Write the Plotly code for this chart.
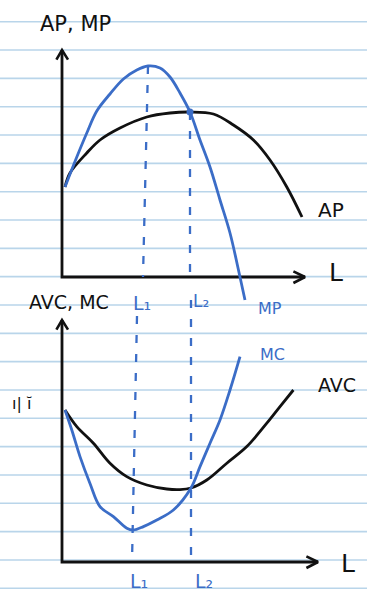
import plotly.graph_objects as go

# ---- data: upper panel (product curves), L vs output per worker ----
mp_L = [0.15, 0.74, 1.24, 1.74, 2.4, 3.07, 3.74, 4.3, 4.9, 5.4, 5.9, 6.4, 6.9, 7.4, 7.9, 8.4, 8.9, 9.15]
mp_v = [4.5, 6.0, 7.2, 8.3, 9.15, 9.9, 10.35, 10.55, 10.45, 10.0, 9.2, 8.25, 6.85, 5.5, 3.85, 2.2, 0.0, -1.15]
ap_L = [0.15, 0.4, 1.24, 1.9, 2.9, 4.24, 5.4, 6.4, 7.57, 8.57, 9.57, 10.4, 11.24, 12.0]
ap_v = [4.5, 5.2, 6.2, 6.85, 7.45, 8.0, 8.2, 8.25, 8.15, 7.6, 6.85, 5.85, 4.5, 3.0]

# ---- data: lower panel (cost curves) ----
mc_L = [0.15, 0.49, 0.9, 1.4, 1.9, 2.57, 3.24, 3.57, 4.07, 4.74, 5.57, 6.45, 6.9, 7.4, 7.9, 8.4, 8.9]
mc_v = [7.6, 6.6, 5.27, 3.93, 2.77, 2.27, 1.69, 1.6, 1.77, 2.1, 2.6, 3.7, 4.77, 5.94, 7.1, 8.6, 10.27]
avc_L = [0.15, 0.74, 1.57, 2.4, 3.24, 4.24, 5.24, 5.9, 6.45, 7.24, 8.24, 9.24, 10.24, 10.9, 11.57]
avc_v = [7.6, 6.77, 5.94, 4.94, 4.27, 3.85, 3.65, 3.62, 3.7, 4.1, 4.94, 5.77, 6.94, 7.77, 8.6]

# key labour levels (top panel / bottom panel, hand drawn guides lean a little)
L1_top = [4.3, 4.05]
L1_bot = [3.75, 3.5]
L2_top = [6.4, 6.4]
L2_bot = [6.45, 6.45]

BLUE = "#3b6dc7"
INK = "#111111"
RULE = "#b9d5ea"
W, H = 367, 597
PX = 20.0          # pixels per unit
X0 = 62            # pixel column of the origin
TOP_Y0, BOT_Y0 = 277, 562   # pixel rows of the two horizontal axes
TOP_DOM = (0, 310)
BOT_DOM = (285, 597)
FONT = "DejaVu Sans"

fig = go.Figure()

def line(x, y, ax, color, width=2.8, dash=None, smooth=True):
    fig.add_trace(go.Scatter(
        x=x, y=y, mode="lines", xaxis=ax[0], yaxis=ax[1], hoverinfo="skip",
        line=dict(color=color, width=width, dash=dash,
                  shape="spline" if smooth else "linear", smoothing=1.0)))

top = ("x", "y")
bot = ("x2", "y2")

# axes with open arrow heads
top_ymax, top_xmax = (TOP_Y0 - 50) / PX, (305 - X0) / PX
bot_ymax, bot_xmax = (BOT_Y0 - 320) / PX, (318 - X0) / PX
for ax, ymax, xmax in ((top, top_ymax, top_xmax), (bot, bot_ymax, bot_xmax)):
    line([0, 0, xmax], [ymax, 0, 0], ax, INK, 2.8, smooth=False)
    line([-0.28, 0, 0.3], [ymax - 0.48, ymax, ymax - 0.48], ax, INK, 2.6, smooth=False)
    line([xmax - 0.58, xmax, xmax - 0.58], [0.28, 0, -0.3], ax, INK, 2.6, smooth=False)

# dashed guides
dash = "8px,11px"
line(L1_top, [10.55, 0], top, BLUE, 2.3, dash, False)
line(L2_top, [8.25, 0], top, BLUE, 2.3, dash, False)
line(L1_bot, [12.3, 0], bot, BLUE, 2.3, dash, False)
line(L2_bot, [13.1, 0], bot, BLUE, 2.3, dash, False)

# curves
line(ap_L, ap_v, top, INK)
line(mp_L, mp_v, top, BLUE)
line(avc_L, avc_v, bot, INK)
line(mc_L, mc_v, bot, BLUE)

# intersection dot on the product panel
fig.add_trace(go.Scatter(x=[6.4], y=[8.25], mode="markers", xaxis="x", yaxis="y",
                         marker=dict(color=BLUE, size=7), hoverinfo="skip"))

# ruled notebook lines behind everything
shapes = []
y = 21.7
while y < H:
    shapes.append(dict(type="line", xref="paper", yref="paper", x0=0, x1=1,
                       y0=1 - y / H, y1=1 - y / H, layer="below",
                       line=dict(color=RULE, width=1.6)))
    y += 28.33

def txt(s, px, py, color=INK, size=19):
    return dict(text=s, x=px / W, y=1 - py / H, xref="paper", yref="paper",
                showarrow=False, font=dict(family=FONT, size=size, color=color),
                xanchor="center", yanchor="middle")

annotations = [
    txt("AP, MP", 75, 24, size=21),
    txt("AP", 331, 210, size=20),
    txt("L", 336, 272, size=25),
    txt("MP", 270, 308, BLUE, 16),
    txt("L₁", 142, 303, BLUE, 19),
    txt("L₂", 201, 301, BLUE, 17),
    txt("AVC, MC", 69, 302, size=19),
    txt("MC", 272, 355, BLUE, 16),
    txt("AVC", 337, 385, size=19),
    txt("L", 348, 563, size=25),
    txt("L₁", 139, 581, BLUE, 19),
    txt("L₂", 204, 581, BLUE, 19),
    txt("ı| ĭ", 22, 403, size=16),
]

def xr():
    return [(0 - X0) / PX, (W - X0) / PX]

def yr(y0, dom):
    return [(y0 - dom[1]) / PX, (y0 - dom[0]) / PX]

hidden = dict(visible=False, showgrid=False, zeroline=False, fixedrange=True)
fig.update_layout(
    width=W, height=H, margin=dict(l=0, r=0, t=0, b=0),
    paper_bgcolor="white", plot_bgcolor="rgba(0,0,0,0)", showlegend=False,
    shapes=shapes, annotations=annotations,
    xaxis=dict(range=xr(), domain=[0, 1], anchor="y", **hidden),
    yaxis=dict(range=yr(TOP_Y0, TOP_DOM), domain=[1 - TOP_DOM[1] / H, 1 - TOP_DOM[0] / H],
               anchor="x", **hidden),
    xaxis2=dict(range=xr(), domain=[0, 1], anchor="y2", **hidden),
    yaxis2=dict(range=yr(BOT_Y0, BOT_DOM), domain=[1 - BOT_DOM[1] / H, 1 - BOT_DOM[0] / H],
                anchor="x2", **hidden),
)

fig.write_html("out.html", config={"displayModeBar": False})
